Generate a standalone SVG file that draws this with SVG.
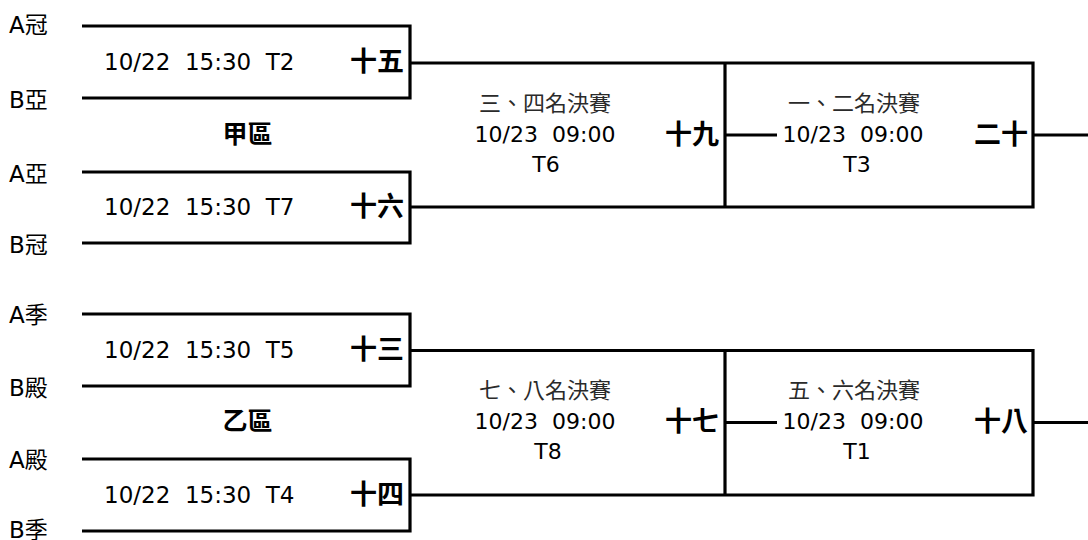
<svg xmlns="http://www.w3.org/2000/svg" width="1088" height="540" viewBox="0 0 1088 540">
<style>
text{font-family:"DejaVu Sans","Noto Sans CJK TC",sans-serif;fill:#000;white-space:pre}
.lbl{font-size:23px}
.dt{font-size:23px}
.dt2{font-size:22px;text-anchor:middle}
.num{font-family:"Noto Sans CJK TC",sans-serif;font-size:27px;font-weight:bold;text-anchor:end}
.zone{font-family:"Noto Sans CJK TC",sans-serif;font-size:25px;font-weight:bold;text-anchor:middle}
.hd{font-family:"Noto Sans CJK TC",sans-serif;font-size:22px;fill:#2a2a2a;text-anchor:middle}
.ln{fill:none;stroke:#000;stroke-width:3.2;stroke-linejoin:miter;stroke-linecap:butt}
</style>
<rect width="1088" height="540" fill="#fff"/>
<g id="connectors" class="ln">
<path d="M82,26 H410 V98 H82"/>
<path d="M82,172 H410 V243 H82"/>
<path d="M410,63 H1033 V207 H410"/>
<path d="M725,63 V207"/>
<path d="M725,135 H777"/>
<path d="M1033,135 H1088"/>
<path d="M82,314 H410 V386 H82"/>
<path d="M82,459 H410 V531 H82"/>
<path d="M410,350.5 H1033 V495 H410"/>
<path d="M725,350.5 V495"/>
<path d="M725,422.5 H777"/>
<path d="M1033,422.5 H1088"/>
</g>
<g id="teams">
<text class="lbl" x="9" y="33">A冠</text>
<text class="lbl" x="9" y="108">B亞</text>
<text class="lbl" x="9" y="182">A亞</text>
<text class="lbl" x="9" y="253">B冠</text>
<text class="lbl" x="9" y="323">A季</text>
<text class="lbl" x="9" y="396">B殿</text>
<text class="lbl" x="9" y="468">A殿</text>
<text class="lbl" x="9" y="538">B季</text>
</g>
<g id="zone-a"><text class="zone" x="247.5" y="143">甲區</text></g>
<g id="zone-b"><text class="zone" x="247.5" y="430">乙區</text></g>
<g id="m15">
<text class="dt" x="104" y="70">10/22  15:30  T2</text>
<text class="num" x="404" y="71">十五</text>
</g>
<g id="m16">
<text class="dt" x="104" y="215">10/22  15:30  T7</text>
<text class="num" x="404" y="216">十六</text>
</g>
<g id="m13">
<text class="dt" x="104" y="358">10/22  15:30  T5</text>
<text class="num" x="404" y="359">十三</text>
</g>
<g id="m14">
<text class="dt" x="104" y="503">10/22  15:30  T4</text>
<text class="num" x="404" y="504">十四</text>
</g>
<g id="m19">
<text class="hd" x="545" y="111">三、四名決賽</text>
<text class="dt2" x="545" y="142">10/23  09:00</text>
<text class="dt2" x="546" y="172">T6</text>
<text class="num" x="719" y="144">十九</text>
</g>
<g id="m20">
<text class="hd" x="854" y="111">一、二名決賽</text>
<text class="dt2" x="853" y="142">10/23  09:00</text>
<text class="dt2" x="857" y="172">T3</text>
<text class="num" x="1028" y="144">二十</text>
</g>
<g id="m17">
<text class="hd" x="545" y="398">七、八名決賽</text>
<text class="dt2" x="545" y="429">10/23  09:00</text>
<text class="dt2" x="548" y="459">T8</text>
<text class="num" x="719" y="431">十七</text>
</g>
<g id="m18">
<text class="hd" x="854" y="398">五、六名決賽</text>
<text class="dt2" x="853" y="429">10/23  09:00</text>
<text class="dt2" x="857" y="459">T1</text>
<text class="num" x="1028" y="431">十八</text>
</g>
</svg>
